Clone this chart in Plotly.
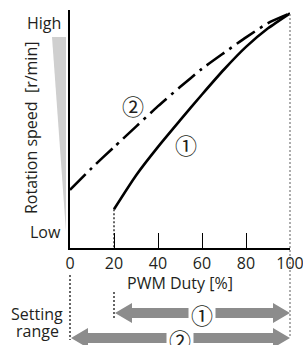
import plotly.graph_objects as go

# ---- data ----
duty = [0, 10, 20, 30, 40, 50, 60, 70, 80, 90, 100]
speed1_duty = [20, 30, 40, 50, 60, 70, 80, 90, 100]
speed1 = [16.3, 30.5, 42.5, 53.6, 64.5, 75.0, 84.5, 92.3, 98.6]
speed2 = [24.4, 33.7, 42.4, 51.0, 59.6, 67.6, 75.3, 82.0, 88.5, 94.5, 98.6]
x_ticks = [0, 20, 40, 60, 80, 100]
range1 = [20, 100]
range2 = [0, 100]
labels = ["\u2460", "\u2461"]

# ---- layout geometry ----
W, H = 303, 345
PL, PR, PT, PB = 70, 13, 10, 97
PW, PH = W - PL - PR, H - PT - PB
FONT = "Open Sans"
TXT = "#231f20"
GRAY = "#8c8c8c"


def px_x(px):
    return (px - PL) / PW


def px_y(py):
    return (PT + PH - py) / PH


def dx(v):  # data x -> pixel x
    return PL + v / 100 * PW


fig = go.Figure()

fig.add_trace(go.Scatter(x=speed1_duty, y=speed1, mode="lines",
                         line=dict(color="#000", width=2.6, shape="spline", smoothing=0.6),
                         hoverinfo="skip"))
fig.add_trace(go.Scatter(x=duty, y=speed2, mode="lines",
                         line=dict(color="#000", width=2.6, dash="22px,6px,3px,6px",
                                   shape="spline", smoothing=0.6),
                         hoverinfo="skip"))
fig.add_trace(go.Scatter(x=[speed1_duty[0], speed1_duty[0]], y=[speed1[0], 0], mode="lines",
                         line=dict(color="#000", width=1.2, dash="2px,2px"),
                         hoverinfo="skip"))

shapes = []
# gray wedge
wx0, wx1, wt, wb = 52, 66, 37, 232
shapes.append(dict(type="path", xref="paper", yref="paper",
                   path=f"M {px_x(wx0)},{px_y(wt)} L {px_x(wx1)},{px_y(wt)} L {px_x(wx1)},{px_y(wb)} Z",
                   fillcolor="#cfcfcf", line=dict(width=0), layer="below"))


def vdot(xv, y0, y1, color="#000"):
    shapes.append(dict(type="line", xref="paper", yref="paper",
                       x0=px_x(dx(xv)), x1=px_x(dx(xv)), y0=px_y(y0), y1=px_y(y1),
                       line=dict(color=color, width=1.2, dash="2px,2px")))


vdot(range2[1], 14, 338, color="#777")
vdot(range2[0], 275, 340)
vdot(range1[0], 292, 318)

HL, HH, SH = 17, 10, 5


def arrow(xa, xb, yc, gc, hw):
    a = dx(xa) + 1
    b = dx(xb)
    g = dx(gc)
    p1 = (f"M {px_x(a)},{px_y(yc)} L {px_x(a+HL)},{px_y(yc-HH)} L {px_x(a+HL)},{px_y(yc-SH)} "
          f"L {px_x(g-hw)},{px_y(yc-SH)} L {px_x(g-hw)},{px_y(yc+SH)} L {px_x(a+HL)},{px_y(yc+SH)} "
          f"L {px_x(a+HL)},{px_y(yc+HH)} Z")
    p2 = (f"M {px_x(b)},{px_y(yc)} L {px_x(b-HL)},{px_y(yc-HH)} L {px_x(b-HL)},{px_y(yc-SH)} "
          f"L {px_x(g+hw)},{px_y(yc-SH)} L {px_x(g+hw)},{px_y(yc+SH)} L {px_x(b-HL)},{px_y(yc+SH)} "
          f"L {px_x(b-HL)},{px_y(yc+HH)} Z")
    for p in (p1, p2):
        shapes.append(dict(type="path", xref="paper", yref="paper", path=p,
                           fillcolor=GRAY, line=dict(width=0)))


mid1 = (range1[0] + range1[1]) / 2
mid2 = (range2[0] + range2[1]) / 2
arrow(range1[0], range1[1], 313, mid1, 13.5)
arrow(range2[0], range2[1], 338, mid2, 13.5)

ann = []


def text(t, x, y, size=16, xanchor="center", angle=0, family=FONT):
    ann.append(dict(text=t, x=px_x(x), y=px_y(y), xref="paper", yref="paper",
                    showarrow=False, xanchor=xanchor, yanchor="middle", textangle=angle,
                    font=dict(family=family, size=size, color=TXT)))


text("High", 63, 23, xanchor="right")
text("Low", 63, 232, xanchor="right")
text("Rotation speed\u00a0 [r/min]", 31, 128, angle=-90)
text("PWM Duty [%]", dx(50), 283)
text("Setting", 37, 314)
text("range", 37, 331)
CJK = "Noto Sans CJK JP"
text(labels[1], 132.5, 105, size=22, family=CJK)
text(labels[0], 186, 144, size=22, family=CJK)
text(labels[0], dx(mid1), 314, size=22, family=CJK)
text(labels[1], dx(mid2), 339, size=22, family=CJK)

fig.update_layout(
    width=W, height=H, margin=dict(l=PL, r=PR, t=PT, b=PB),
    paper_bgcolor="white", plot_bgcolor="white", showlegend=False,
    shapes=shapes, annotations=ann, hovermode=False,
    xaxis=dict(range=[0, 100], tickvals=x_ticks, ticks="inside", ticklen=15, tickwidth=1.2,
               tickcolor="#000", showline=True, linecolor="#000", linewidth=1.5,
               showgrid=False, zeroline=False, automargin=False, ticklabeloverflow="allow",
               tickfont=dict(family=FONT, size=16, color=TXT)),
    yaxis=dict(range=[0, 100], showline=True, linecolor="#000", linewidth=1.5,
               showticklabels=False, ticks="", showgrid=False, zeroline=False, automargin=False),
)

fig.write_html("out.html", config={"displayModeBar": False},
               post_script="document.body.style.margin='0';document.body.style.overflow='hidden';")
